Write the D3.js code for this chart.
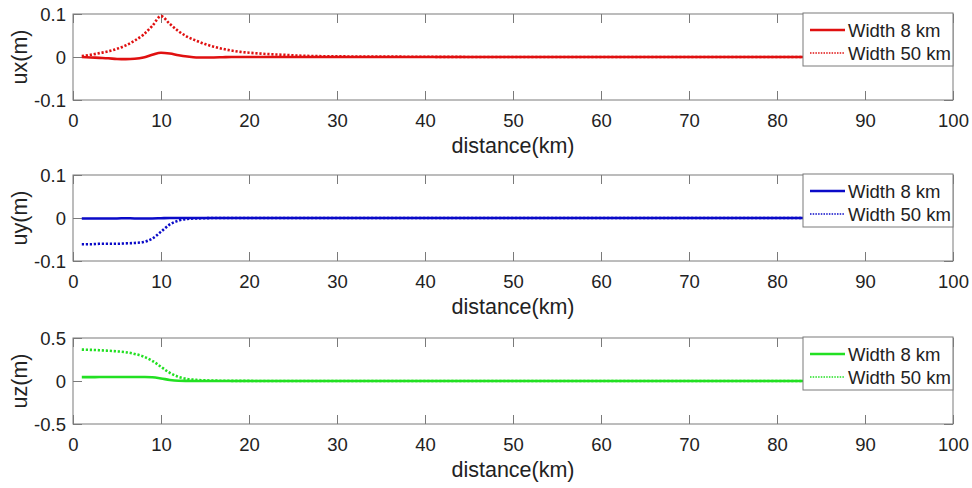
<!DOCTYPE html>
<html>
<head>
<meta charset="utf-8">
<script src="https://cdn.jsdelivr.net/npm/d3@7/dist/d3.min.js"></script>
<style>
  html, body { margin: 0; padding: 0; background: #fff; }
  svg { display: block; font-family: Arial, "Liberation Sans", sans-serif; }
</style>
</head>
<body>
<svg id="chart" width="972" height="488"></svg>
<script>
// ---- data ----
const distance = [1,2,3,4,5,6,7,8,9,10,11,12,13,14,15,16,17,18,19,20,22,24,26,28,30,35,40,50,60,70,80,90,100];

const ux8  = [0,-0.001,-0.002,-0.003,-0.0045,-0.005,-0.004,-0.001,0.005,0.010,0.008,0.004,0.001,-0.001,-0.001,-0.001,-0.0005,0,0,0,0,0,0,0,0,0,0,0,0,0,0,0,0];
const ux50 = [0.002,0.005,0.009,0.013,0.019,0.027,0.038,0.052,0.072,0.095,0.077,0.060,0.047,0.038,0.030,0.024,0.019,0.015,0.012,0.010,0.007,0.005,0.003,0.002,0.0015,0.001,0.0005,0,0,0,0,0,0];

const uy8  = [-0.001,-0.001,-0.001,-0.001,-0.001,-0.0005,-0.001,-0.001,-0.001,-0.0005,0,0,0,0,0,0,0,0,0,0,0,0,0,0,0,0,0,0,0,0,0,0,0];
const uy50 = [-0.061,-0.061,-0.060,-0.060,-0.060,-0.059,-0.058,-0.056,-0.048,-0.032,-0.015,-0.006,-0.002,-0.001,-0.0005,0,0,0,0,0,0,0,0,0,0,0,0,0,0,0,0,0,0];

const uz8  = [0.045,0.045,0.046,0.046,0.047,0.047,0.047,0.046,0.043,0.030,0.012,0.003,0.001,0,0,0,0,0,0,0,0,0,0,0,0,0,0,0,0,0,0,0,0];
const uz50 = [0.365,0.362,0.358,0.352,0.345,0.335,0.315,0.285,0.235,0.165,0.095,0.048,0.024,0.013,0.008,0.005,0.003,0.002,0.001,0.001,0,0,0,0,0,0,0,0,0,0,0,0,0];

const xTicks = [0,10,20,30,40,50,60,70,80,90,100];
const yTicksSmall = [-0.1, 0, 0.1];
const yTicksLarge = [-0.5, 0, 0.5];
const legendLabels = ["Width 8 km", "Width 50 km"];
const xLabel = "distance(km)";

const panels = [
  { ylabel: "ux(m)", s8: ux8, s50: ux50, domain: [-0.1, 0.1], ticks: yTicksSmall, color: "#e01010", top: 14 },
  { ylabel: "uy(m)", s8: uy8, s50: uy50, domain: [-0.1, 0.1], ticks: yTicksSmall, color: "#0a0ac8", top: 175 },
  { ylabel: "uz(m)", s8: uz8, s50: uz50, domain: [-0.5, 0.5], ticks: yTicksLarge, color: "#22e022", top: 338 }
];

// ---- layout ----
const left = 73, right = 953, ph = 86;
const axisColor = "#7a7a7a", textColor = "#222";
const svg = d3.select("#chart");

const x = d3.scaleLinear().domain([0, 100]).range([left, right]);

panels.forEach(p => {
  const top = p.top, bottom = top + ph;
  const y = d3.scaleLinear().domain(p.domain).range([bottom, top]);
  const g = svg.append("g");

  const cid = "clip" + top;
  svg.append("clipPath").attr("id", cid).append("rect")
    .attr("x", left).attr("y", top).attr("width", right - left).attr("height", ph);

  g.append("rect").attr("x", left).attr("y", top).attr("width", right - left).attr("height", ph)
    .attr("fill", "#fff").attr("stroke", axisColor).attr("stroke-width", 1);

  const fmt = d => (d === 0 ? "0" : String(d));
  const ax = g.append("g").attr("transform", `translate(0,${bottom})`)
    .call(d3.axisBottom(x).tickValues(xTicks).tickSizeInner(-9).tickSizeOuter(0).tickPadding(14).tickFormat(fmt));
  const axT = g.append("g").attr("transform", `translate(0,${top})`)
    .call(d3.axisTop(x).tickValues(xTicks).tickSizeInner(-9).tickSizeOuter(0).tickFormat(""));
  const ay = g.append("g").attr("transform", `translate(${left},0)`)
    .call(d3.axisLeft(y).tickValues(p.ticks).tickSizeInner(-9).tickSizeOuter(0).tickPadding(7).tickFormat(fmt));
  const ayR = g.append("g").attr("transform", `translate(${right},0)`)
    .call(d3.axisRight(y).tickValues(p.ticks).tickSizeInner(-9).tickSizeOuter(0).tickFormat(""));
  [ax, axT, ay, ayR].forEach(a => {
    a.select(".domain").remove();
    a.selectAll("line").attr("stroke", axisColor);
    a.selectAll("text").attr("fill", textColor).attr("font-size", 18.5)
      .attr("font-family", "Arial, 'Liberation Sans', sans-serif");
  });
  ax.selectAll("text").attr("dy", "0.71em");
  ay.selectAll("text").attr("dy", "0.36em");

  g.append("text").attr("x", (left + right) / 2).attr("y", bottom + 53)
    .attr("text-anchor", "middle").attr("font-size", 21.5).attr("fill", textColor).text(xLabel);
  g.append("text").attr("transform", `translate(27,${top + ph / 2}) rotate(-90)`)
    .attr("text-anchor", "middle").attr("font-size", 21.5).attr("fill", textColor).text(p.ylabel);

  const line = d3.line().x((d, i) => x(distance[i])).y(d => y(d)).curve(d3.curveMonotoneX);
  const lg = g.append("g").attr("clip-path", `url(#${cid})`);
  lg.append("path").datum(p.s50).attr("d", line).attr("fill", "none")
    .attr("stroke", p.color).attr("stroke-width", 2.6).attr("stroke-dasharray", "2.2,1.8");
  lg.append("path").datum(p.s8).attr("d", line).attr("fill", "none")
    .attr("stroke", p.color).attr("stroke-width", 2.6);

  const lx = 803, lw = right - lx, lt = top - 1, lh = 53;
  const leg = g.append("g");
  leg.append("rect").attr("x", lx).attr("y", lt).attr("width", lw).attr("height", lh)
    .attr("fill", "#fff").attr("stroke", axisColor).attr("stroke-width", 1);
  legendLabels.forEach((lab, i) => {
    const ry = lt + 17 + i * 23;
    leg.append("line").attr("x1", 810).attr("x2", 845).attr("y1", ry).attr("y2", ry)
      .attr("stroke", p.color).attr("stroke-width", i === 0 ? 2.4 : 1.6)
      .attr("stroke-dasharray", i === 0 ? null : "1.5,1.2");
    leg.append("text").attr("x", 848).attr("y", ry).attr("dy", "0.36em")
      .attr("font-size", 18.5).attr("fill", textColor).text(lab);
  });
});
</script>
</body>
</html>
